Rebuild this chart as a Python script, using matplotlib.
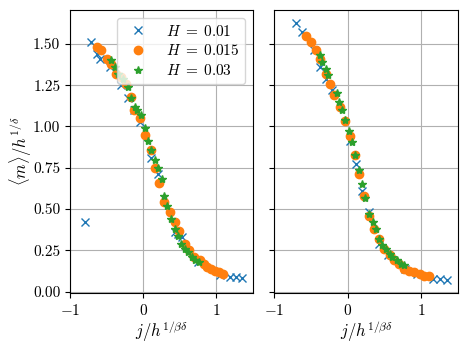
import matplotlib
matplotlib.use("Agg")
import matplotlib.pyplot as plt

plt.rcParams["font.family"] = "serif"
plt.rcParams["font.serif"] = ["cmr10", "DejaVu Serif"]
plt.rcParams["mathtext.fontset"] = "cm"
plt.rcParams["axes.formatter.use_mathtext"] = True
plt.rcParams["axes.unicode_minus"] = True

# 左图数据
l_x1 = [-0.795, -0.71, -0.63, -0.59, -0.46, -0.30, -0.21, -0.12, -0.05, 0.11, 0.20,
        0.44, 0.48, 0.53, 0.75, 1.05, 1.19, 1.27, 1.35]
l_y1 = [0.42, 1.51, 1.44, 1.41, 1.36, 1.25, 1.17, 1.10, 1.03, 0.81, 0.71,
        0.36, 0.35, 0.33, 0.18, 0.10, 0.09, 0.087, 0.08]
l_x2 = [-0.63, -0.57, -0.50, -0.44, -0.37, -0.30, -0.24, -0.16, -0.12, -0.04, 0.03,
        0.10, 0.16, 0.22, 0.29, 0.36, 0.43, 0.49, 0.57, 0.62, 0.70, 0.78, 0.83,
        0.87, 0.92, 0.98, 1.03, 1.09]
l_y2 = [1.48, 1.46, 1.41, 1.38, 1.32, 1.30, 1.26, 1.18, 1.10, 1.05, 0.95,
        0.86, 0.75, 0.66, 0.545, 0.48, 0.42, 0.37, 0.29, 0.25, 0.21, 0.19, 0.167,
        0.15, 0.137, 0.127, 0.117, 0.107]
l_x3 = [-0.44, -0.39, -0.35, -0.27, -0.21, -0.17, -0.11, -0.08, -0.03, 0.03, 0.06,
        0.11, 0.16, 0.20, 0.25, 0.29, 0.33, 0.38, 0.43, 0.47, 0.52, 0.57, 0.61,
        0.67, 0.71, 0.76]
l_y3 = [1.40, 1.36, 1.32, 1.29, 1.24, 1.17, 1.12, 1.10, 1.07, 0.99, 0.915,
        0.86, 0.80, 0.75, 0.68, 0.58, 0.52, 0.44, 0.38, 0.34, 0.29, 0.26, 0.24,
        0.21, 0.19, 0.18]

# 右图数据
r_x1 = [-0.70, -0.62, -0.45, -0.38, -0.29, -0.21, 0.03, 0.11, 0.19, 0.29, 0.42,
        0.55, 0.78, 0.94, 1.16, 1.25, 1.35]
r_y1 = [1.625, 1.57, 1.46, 1.36, 1.29, 1.22, 0.91, 0.77, 0.61, 0.48, 0.29,
        0.22, 0.137, 0.11, 0.077, 0.077, 0.07]
r_x2 = [-0.57, -0.50, -0.43, -0.37, -0.30, -0.24, -0.18, -0.11, -0.03, 0.03, 0.10,
        0.16, 0.22, 0.29, 0.36, 0.42, 0.49, 0.57, 0.63, 0.70, 0.77, 0.84, 0.90,
        0.98, 1.04, 1.10]
r_y2 = [1.545, 1.51, 1.46, 1.41, 1.32, 1.26, 1.19, 1.12, 1.035, 0.945, 0.83,
        0.71, 0.58, 0.46, 0.38, 0.32, 0.26, 0.22, 0.19, 0.165, 0.14, 0.127, 0.117,
        0.107, 0.097, 0.093]
r_x3 = [-0.38, -0.35, -0.29, -0.26, -0.15, -0.12, -0.07, -0.03, 0.02, 0.06, 0.10,
        0.15, 0.20, 0.24, 0.29, 0.34, 0.38, 0.43, 0.47, 0.52, 0.57, 0.61, 0.67,
        0.72, 0.76]
r_y3 = [1.43, 1.39, 1.35, 1.31, 1.20, 1.15, 1.10, 1.04, 0.975, 0.905, 0.83,
        0.735, 0.65, 0.565, 0.47, 0.42, 0.38, 0.32, 0.28, 0.26, 0.23, 0.21, 0.19,
        0.17, 0.16]

labels = [r"$H\;=\;0.01$", r"$H\;=\;0.015$", r"$H\;=\;0.03$"]

fig = plt.figure(figsize=(4.69, 3.51), dpi=100)
W, H = 469, 351
ax1 = fig.add_axes([70 / W, (H - 293) / H, 183 / W, 283 / H])
ax2 = fig.add_axes([274 / W, (H - 293) / H, 184 / W, 283 / H], sharey=ax1)

for ax, xs, ys in [(ax1, (l_x1, l_x2, l_x3), (l_y1, l_y2, l_y3)),
                   (ax2, (r_x1, r_x2, r_x3), (r_y1, r_y2, r_y3))]:
    ax.plot(xs[0], ys[0], "x", color="C0", label=labels[0])
    ax.plot(xs[1], ys[1], "o", color="C1", label=labels[1])
    ax.plot(xs[2], ys[2], "*", color="C2", label=labels[2])
    ax.set_xlim(-1.0, 1.5)
    ax.set_xticks([-1, 0, 1])
    ax.grid(True)
    ax.tick_params(labelsize=11)
    ax.set_xlabel(r"$j/h^{1/\beta\delta}$", fontsize=12, labelpad=1)

ax1.set_ylim(-0.008, 1.705)
ax1.set_yticks([0, 0.25, 0.5, 0.75, 1.0, 1.25, 1.5])
ax1.yaxis.set_major_formatter(matplotlib.ticker.FormatStrFormatter("%.2f"))
ax1.set_ylabel(r"$\langle m\rangle/h^{1/\delta}$", fontsize=12, labelpad=-1)
plt.setp(ax2.get_yticklabels(), visible=False)
ax1.legend(loc="upper right", fontsize=11, labelspacing=0.3)

plt.savefig("out.png")
